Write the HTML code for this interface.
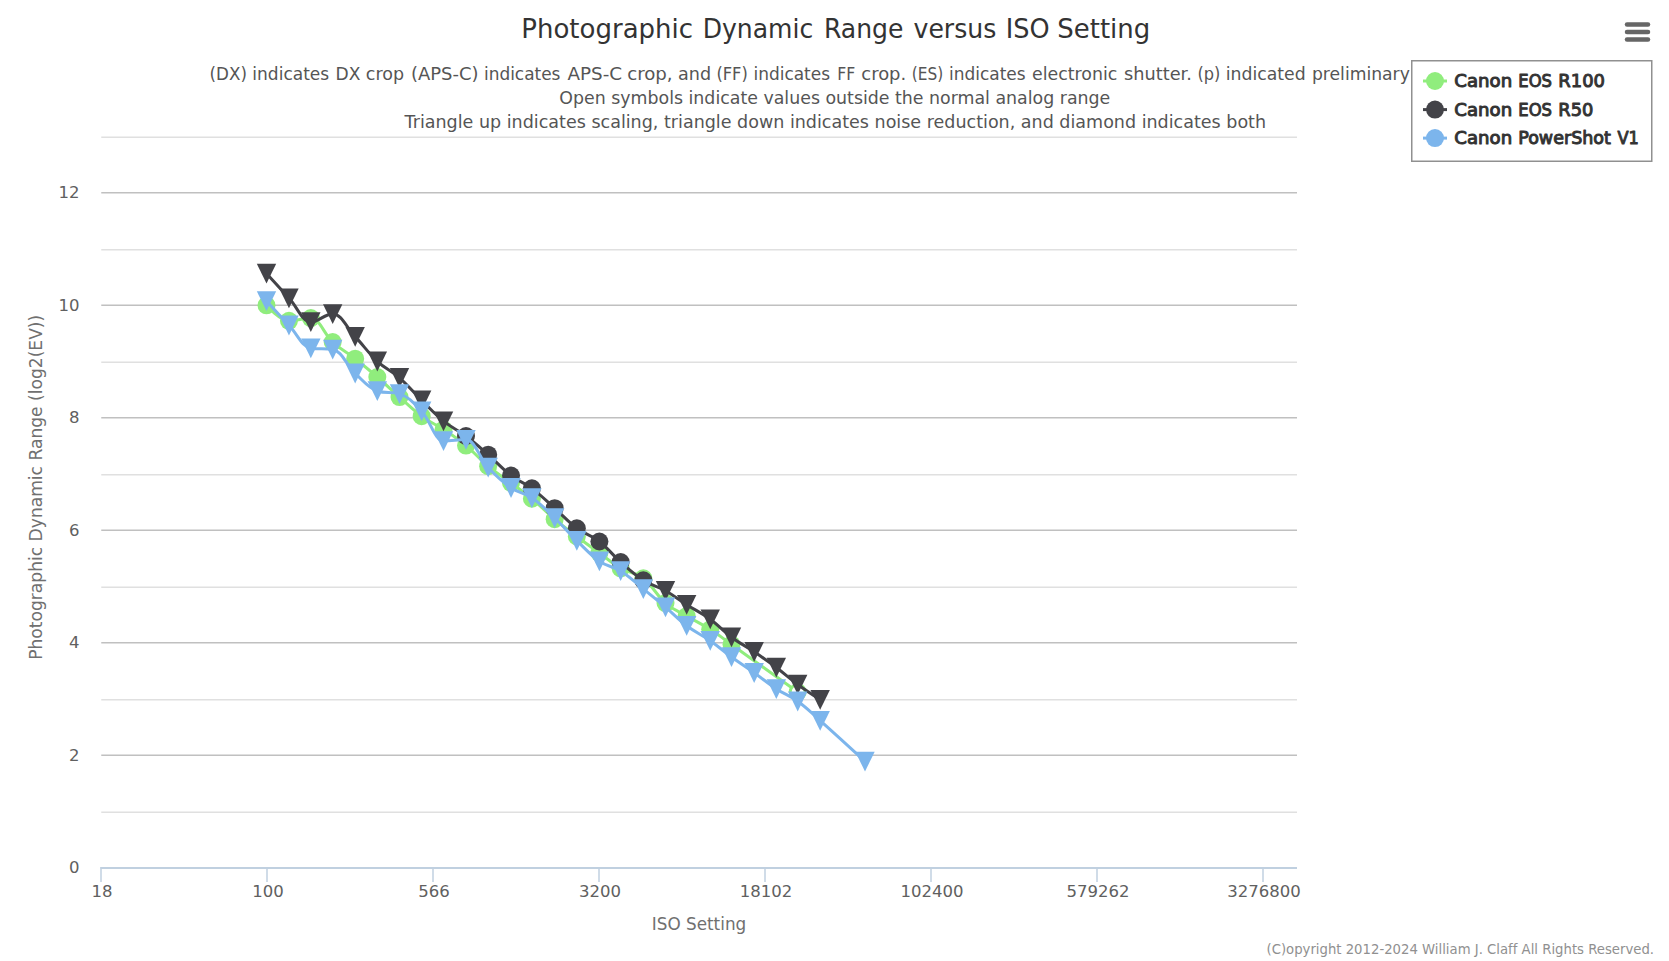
<!DOCTYPE html>
<html lang="en"><head><meta charset="utf-8"><title>Photographic Dynamic Range versus ISO Setting</title>
<style>html,body{margin:0;padding:0;background:#fff;}body{width:1669px;height:961px;overflow:hidden;}svg{display:block;font-family:'DejaVu Sans','Liberation Sans',sans-serif;font-variant-ligatures:none;}text{white-space:pre;}</style></head><body>
<svg width="1669" height="961" viewBox="0 0 1669 961" role="img" aria-label="Photographic Dynamic Range versus ISO Setting">
<rect x="0" y="0" width="1669" height="961" fill="#ffffff"/>
<g class="grid" stroke-width="1.5" fill="none">
<path d="M101.25 812.25L1297.00 812.25" stroke="#e0e0e0"/>
<path d="M101.25 755.25L1297.00 755.25" stroke="#c0c0c0"/>
<path d="M101.25 699.75L1297.00 699.75" stroke="#e0e0e0"/>
<path d="M101.25 642.75L1297.00 642.75" stroke="#c0c0c0"/>
<path d="M101.25 587.25L1297.00 587.25" stroke="#e0e0e0"/>
<path d="M101.25 530.25L1297.00 530.25" stroke="#c0c0c0"/>
<path d="M101.25 474.75L1297.00 474.75" stroke="#e0e0e0"/>
<path d="M101.25 417.75L1297.00 417.75" stroke="#c0c0c0"/>
<path d="M101.25 362.25L1297.00 362.25" stroke="#e0e0e0"/>
<path d="M101.25 305.25L1297.00 305.25" stroke="#c0c0c0"/>
<path d="M101.25 249.75L1297.00 249.75" stroke="#e0e0e0"/>
<path d="M101.25 192.75L1297.00 192.75" stroke="#c0c0c0"/>
<path d="M101.25 137.25L1297.00 137.25" stroke="#e0e0e0"/>
</g>
<g class="x-axis" stroke="#c0d0e0" stroke-width="1.5" fill="none">
<path d="M100.50 867.95L1297.00 867.95" stroke-width="1.9"/>
<path d="M101.00 867L101.00 882"/>
<path d="M267.00 867L267.00 882"/>
<path d="M433.00 867L433.00 882"/>
<path d="M599.00 867L599.00 882"/>
<path d="M765.00 867L765.00 882"/>
<path d="M931.00 867L931.00 882"/>
<path d="M1097.00 867L1097.00 882"/>
<path d="M1263.00 867L1263.00 882"/>
</g>
<g class="x-axis-labels" font-size="16.5" fill="#606060" text-anchor="middle">
<text x="102.10" y="896.8">18</text>
<text x="268.10" y="896.8">100</text>
<text x="434.10" y="896.8">566</text>
<text x="600.10" y="896.8">3200</text>
<text x="766.10" y="896.8">18102</text>
<text x="932.10" y="896.8">102400</text>
<text x="1098.10" y="896.8">579262</text>
<text x="1264.10" y="896.8">3276800</text>
</g>
<g class="y-axis-labels" font-size="16.5" fill="#606060" text-anchor="end">
<text x="79.5" y="873.05">0</text>
<text x="79.5" y="760.55">2</text>
<text x="79.5" y="648.05">4</text>
<text x="79.5" y="535.55">6</text>
<text x="79.5" y="423.05">8</text>
<text x="79.5" y="310.55">10</text>
<text x="79.5" y="198.05">12</text>
</g>
<text id="xt" x="699" y="930" font-size="18" fill="#707070" text-anchor="middle" textLength="94.5" lengthAdjust="spacingAndGlyphs">ISO Setting</text>
<text id="yt" transform="translate(42.4,487.3) rotate(-90)" font-size="18" fill="#707070" text-anchor="middle" textLength="345" lengthAdjust="spacingAndGlyphs">Photographic Dynamic Range (log2(EV))</text>
<g class="series">
<path d="M266.50 305.30 C266.50 305.30 279.98 320.80 288.97 320.80 C297.71 320.80 302.09 318.10 310.83 318.10 C319.58 318.10 323.95 334.09 332.70 342.10 C341.69 350.33 346.18 351.67 355.17 358.70 C364.03 365.63 368.47 369.32 377.33 377.00 C386.20 384.68 390.63 389.26 399.50 397.10 C408.37 404.94 412.80 409.68 421.67 416.20 C430.41 422.64 434.79 423.70 443.53 429.50 C452.52 435.46 457.01 438.21 466.00 445.60 C474.87 452.89 479.30 458.84 488.17 466.20 C497.31 473.80 501.89 476.20 511.03 483.00 C519.38 489.20 523.55 491.78 531.90 498.70 C541.01 506.26 545.56 511.54 554.67 519.20 C563.53 526.66 567.97 529.80 576.83 536.50 C585.86 543.32 590.37 546.45 599.40 553.00 C607.91 559.17 612.16 563.40 620.67 568.30 C629.73 573.52 634.27 571.26 643.33 578.30 C652.20 585.18 656.63 595.39 665.50 603.10 C673.97 610.47 678.20 611.04 686.67 616.00 C696.09 621.52 700.81 623.31 710.23 629.30 C718.74 634.71 722.99 638.40 731.50 644.50 C757.98 663.48 797.70 692.00 797.70 692.00" fill="none" stroke="#90ed7d" stroke-width="3" stroke-linejoin="round" stroke-linecap="round"/>
<circle cx="266.50" cy="305.30" r="9.0" fill="#90ed7d"/><circle cx="288.97" cy="320.80" r="9.0" fill="#90ed7d"/><circle cx="310.83" cy="318.10" r="9.0" fill="#90ed7d"/><circle cx="332.70" cy="342.10" r="9.0" fill="#90ed7d"/><circle cx="355.17" cy="358.70" r="9.0" fill="#90ed7d"/><circle cx="377.33" cy="377.00" r="9.0" fill="#90ed7d"/><circle cx="399.50" cy="397.10" r="9.0" fill="#90ed7d"/><circle cx="421.67" cy="416.20" r="9.0" fill="#90ed7d"/><circle cx="443.53" cy="429.50" r="9.0" fill="#90ed7d"/><circle cx="466.00" cy="445.60" r="9.0" fill="#90ed7d"/><circle cx="488.17" cy="466.20" r="9.0" fill="#90ed7d"/><circle cx="511.03" cy="483.00" r="9.0" fill="#90ed7d"/><circle cx="531.90" cy="498.70" r="9.0" fill="#90ed7d"/><circle cx="554.67" cy="519.20" r="9.0" fill="#90ed7d"/><circle cx="576.83" cy="536.50" r="9.0" fill="#90ed7d"/><circle cx="599.40" cy="553.00" r="9.0" fill="#90ed7d"/><circle cx="620.67" cy="568.30" r="9.0" fill="#90ed7d"/><circle cx="643.33" cy="578.30" r="9.0" fill="#90ed7d"/><circle cx="665.50" cy="603.10" r="9.0" fill="#90ed7d"/><circle cx="686.67" cy="616.00" r="9.0" fill="#90ed7d"/><circle cx="710.23" cy="629.30" r="9.0" fill="#90ed7d"/><circle cx="731.50" cy="644.50" r="9.0" fill="#90ed7d"/><circle cx="797.70" cy="692.00" r="7.5" fill="#fff" stroke="#90ed7d" stroke-width="3"/>

<path d="M266.50 273.40 C266.50 273.40 279.98 288.27 288.97 298.10 C297.71 307.67 302.09 321.90 310.83 321.90 C319.58 321.90 323.95 313.90 332.70 313.90 C341.69 313.90 346.18 327.11 355.17 336.65 C364.03 346.07 368.47 353.07 377.33 361.30 C386.20 369.53 390.63 370.00 399.50 377.80 C408.37 385.60 412.80 391.56 421.67 400.30 C430.41 408.92 434.79 414.16 443.53 421.20 C452.52 428.44 457.01 429.25 466.00 436.00 C474.87 442.65 479.30 446.90 488.17 454.70 C497.31 462.74 501.89 468.56 511.03 475.60 C519.38 482.02 523.55 482.11 531.90 488.35 C541.01 495.15 545.56 500.10 554.67 508.20 C563.53 516.08 567.97 521.70 576.83 528.30 C585.86 535.02 590.37 534.54 599.40 541.50 C607.91 548.06 612.16 554.59 620.67 562.10 C629.73 570.11 634.27 574.50 643.33 580.30 C652.20 585.98 656.63 585.81 665.50 590.80 C673.97 595.57 678.20 599.32 686.67 604.70 C696.09 610.68 700.81 612.37 710.23 619.20 C718.74 625.37 722.99 630.89 731.50 637.20 C740.57 643.93 745.10 645.67 754.17 651.80 C763.03 657.79 767.47 660.84 776.33 667.50 C784.88 673.92 789.15 678.24 797.70 684.50 C806.69 691.08 820.17 699.60 820.17 699.60" fill="none" stroke="#434348" stroke-width="3" stroke-linejoin="round" stroke-linecap="round"/>
<path d="M256.80 263.70L276.20 263.70L266.50 283.50Z" fill="#434348"/><path d="M279.27 288.40L298.67 288.40L288.97 308.20Z" fill="#434348"/><path d="M301.13 312.20L320.53 312.20L310.83 332.00Z" fill="#434348"/><path d="M323.00 304.20L342.40 304.20L332.70 324.00Z" fill="#434348"/><path d="M345.47 326.95L364.87 326.95L355.17 346.75Z" fill="#434348"/><path d="M367.63 351.60L387.03 351.60L377.33 371.40Z" fill="#434348"/><path d="M389.80 368.10L409.20 368.10L399.50 387.90Z" fill="#434348"/><path d="M411.97 390.60L431.37 390.60L421.67 410.40Z" fill="#434348"/><path d="M433.83 411.50L453.23 411.50L443.53 431.30Z" fill="#434348"/><circle cx="466.00" cy="436.00" r="9.0" fill="#434348"/><circle cx="488.17" cy="454.70" r="9.0" fill="#434348"/><circle cx="511.03" cy="475.60" r="9.0" fill="#434348"/><circle cx="531.90" cy="488.35" r="9.0" fill="#434348"/><circle cx="554.67" cy="508.20" r="9.0" fill="#434348"/><circle cx="576.83" cy="528.30" r="9.0" fill="#434348"/><circle cx="599.40" cy="541.50" r="9.0" fill="#434348"/><circle cx="620.67" cy="562.10" r="9.0" fill="#434348"/><circle cx="643.33" cy="580.30" r="9.0" fill="#434348"/><path d="M655.80 581.10L675.20 581.10L665.50 600.90Z" fill="#434348"/><path d="M676.97 595.00L696.37 595.00L686.67 614.80Z" fill="#434348"/><path d="M700.53 609.50L719.93 609.50L710.23 629.30Z" fill="#434348"/><path d="M721.80 627.50L741.20 627.50L731.50 647.30Z" fill="#434348"/><path d="M744.47 642.10L763.87 642.10L754.17 661.90Z" fill="#434348"/><path d="M766.63 657.80L786.03 657.80L776.33 677.60Z" fill="#434348"/><path d="M788.00 674.80L807.40 674.80L797.70 694.60Z" fill="#434348"/><path d="M810.47 689.90L829.87 689.90L820.17 709.70Z" fill="#434348"/>

<path d="M266.50 301.00 C266.50 301.00 279.98 315.73 288.97 325.30 C297.71 334.61 302.09 347.00 310.83 348.20 C319.58 349.40 323.95 348.20 332.70 349.40 C341.69 350.60 346.18 364.92 355.17 373.30 C364.03 381.56 368.47 388.10 377.33 391.00 C386.20 393.90 390.63 391.00 399.50 393.90 C408.37 396.80 412.80 401.72 421.67 411.20 C430.41 420.56 434.79 441.00 443.53 441.00 C452.52 441.00 457.01 439.60 466.00 439.60 C474.87 439.60 479.30 457.91 488.17 467.40 C497.31 477.19 501.89 481.43 511.03 487.80 C519.38 493.61 523.55 492.07 531.90 497.85 C541.01 504.15 545.56 509.34 554.67 518.00 C563.53 526.44 567.97 532.04 576.83 540.60 C585.86 549.32 590.37 554.94 599.40 561.20 C607.91 567.10 612.16 565.64 620.67 571.00 C629.73 576.72 634.27 581.60 643.33 588.90 C652.20 596.04 656.63 599.57 665.50 607.10 C673.97 614.29 678.20 619.34 686.67 625.70 C696.09 632.78 700.81 634.12 710.23 640.70 C718.74 646.64 722.99 650.78 731.50 657.00 C740.57 663.62 745.10 666.35 754.17 672.80 C763.03 679.11 767.47 683.10 776.33 688.90 C784.88 694.50 789.15 695.12 797.70 701.30 C806.69 707.80 811.18 712.57 820.17 720.60 C838.10 736.61 865.00 761.40 865.00 761.40" fill="none" stroke="#7cb5ec" stroke-width="3" stroke-linejoin="round" stroke-linecap="round"/>
<path d="M256.80 291.30L276.20 291.30L266.50 311.10Z" fill="#7cb5ec"/><path d="M279.27 315.60L298.67 315.60L288.97 335.40Z" fill="#7cb5ec"/><path d="M301.13 338.50L320.53 338.50L310.83 358.30Z" fill="#7cb5ec"/><path d="M323.00 339.70L342.40 339.70L332.70 359.50Z" fill="#7cb5ec"/><path d="M345.47 363.60L364.87 363.60L355.17 383.40Z" fill="#7cb5ec"/><path d="M367.63 381.30L387.03 381.30L377.33 401.10Z" fill="#7cb5ec"/><path d="M389.80 384.20L409.20 384.20L399.50 404.00Z" fill="#7cb5ec"/><path d="M411.97 401.50L431.37 401.50L421.67 421.30Z" fill="#7cb5ec"/><path d="M433.83 431.30L453.23 431.30L443.53 451.10Z" fill="#7cb5ec"/><path d="M456.30 429.90L475.70 429.90L466.00 449.70Z" fill="#7cb5ec"/><path d="M478.47 457.70L497.87 457.70L488.17 477.50Z" fill="#7cb5ec"/><path d="M501.33 478.10L520.73 478.10L511.03 497.90Z" fill="#7cb5ec"/><path d="M522.20 488.15L541.60 488.15L531.90 507.95Z" fill="#7cb5ec"/><path d="M544.97 508.30L564.37 508.30L554.67 528.10Z" fill="#7cb5ec"/><path d="M567.13 530.90L586.53 530.90L576.83 550.70Z" fill="#7cb5ec"/><path d="M589.70 551.50L609.10 551.50L599.40 571.30Z" fill="#7cb5ec"/><path d="M610.97 561.30L630.37 561.30L620.67 581.10Z" fill="#7cb5ec"/><path d="M633.63 579.20L653.03 579.20L643.33 599.00Z" fill="#7cb5ec"/><path d="M655.80 597.40L675.20 597.40L665.50 617.20Z" fill="#7cb5ec"/><path d="M676.97 616.00L696.37 616.00L686.67 635.80Z" fill="#7cb5ec"/><path d="M700.53 631.00L719.93 631.00L710.23 650.80Z" fill="#7cb5ec"/><path d="M721.80 647.30L741.20 647.30L731.50 667.10Z" fill="#7cb5ec"/><path d="M744.47 663.10L763.87 663.10L754.17 682.90Z" fill="#7cb5ec"/><path d="M766.63 679.20L786.03 679.20L776.33 699.00Z" fill="#7cb5ec"/><path d="M788.00 691.60L807.40 691.60L797.70 711.40Z" fill="#7cb5ec"/><path d="M810.47 710.90L829.87 710.90L820.17 730.70Z" fill="#7cb5ec"/><path d="M855.30 751.70L874.70 751.70L865.00 771.50Z" fill="#7cb5ec"/>

</g>
<text id="ti" y="37.70" font-size="27" fill="#333333"><tspan x="521.27" textLength="171.84" lengthAdjust="spacingAndGlyphs">Photographic</tspan> <tspan x="702.64" textLength="110.64" lengthAdjust="spacingAndGlyphs">Dynamic</tspan> <tspan x="823.94" textLength="79.53" lengthAdjust="spacingAndGlyphs">Range</tspan> <tspan x="913.50" textLength="82.89" lengthAdjust="spacingAndGlyphs">versus</tspan> <tspan x="1005.71" textLength="43.88" lengthAdjust="spacingAndGlyphs">ISO</tspan> <tspan x="1057.24" textLength="93.02" lengthAdjust="spacingAndGlyphs">Setting</tspan></text>
<g class="subtitle" font-size="18" fill="#555555">
<text id="s1" y="80.10" font-size="18" fill="#555555"><tspan x="209.57" textLength="37.38" lengthAdjust="spacingAndGlyphs">(DX)</tspan> <tspan x="252.36" textLength="76.80" lengthAdjust="spacingAndGlyphs">indicates</tspan> <tspan x="335.55" textLength="24.86" lengthAdjust="spacingAndGlyphs">DX</tspan> <tspan x="365.83" textLength="38.18" lengthAdjust="spacingAndGlyphs">crop</tspan> <tspan x="410.90" textLength="67.62" lengthAdjust="spacingAndGlyphs">(APS-C)</tspan> <tspan x="483.96" textLength="76.50" lengthAdjust="spacingAndGlyphs">indicates</tspan> <tspan x="567.40" textLength="54.68" lengthAdjust="spacingAndGlyphs">APS-C</tspan> <tspan x="627.19" textLength="45.44" lengthAdjust="spacingAndGlyphs">crop,</tspan> <tspan x="678.02" textLength="33.07" lengthAdjust="spacingAndGlyphs">and</tspan> <tspan x="716.40" textLength="31.43" lengthAdjust="spacingAndGlyphs">(FF)</tspan> <tspan x="753.46" textLength="76.60" lengthAdjust="spacingAndGlyphs">indicates</tspan> <tspan x="837.33" textLength="17.97" lengthAdjust="spacingAndGlyphs">FF</tspan> <tspan x="861.30" textLength="44.91" lengthAdjust="spacingAndGlyphs">crop.</tspan> <tspan x="911.75" textLength="31.43" lengthAdjust="spacingAndGlyphs">(ES)</tspan> <tspan x="948.96" textLength="76.70" lengthAdjust="spacingAndGlyphs">indicates</tspan> <tspan x="1032.04" textLength="85.23" lengthAdjust="spacingAndGlyphs">electronic</tspan> <tspan x="1124.10" textLength="67.80" lengthAdjust="spacingAndGlyphs">shutter.</tspan> <tspan x="1197.40" textLength="22.92" lengthAdjust="spacingAndGlyphs">(p)</tspan> <tspan x="1225.74" textLength="79.93" lengthAdjust="spacingAndGlyphs">indicated</tspan> <tspan x="1311.94" textLength="97.92" lengthAdjust="spacingAndGlyphs">preliminary</tspan></text>
<text id="s2" x="559.3" y="103.9" textLength="551" lengthAdjust="spacingAndGlyphs">Open symbols indicate values outside the normal analog range</text>
<text id="s3" x="404.6" y="127.7" textLength="861.5" lengthAdjust="spacingAndGlyphs">Triangle up indicates scaling, triangle down indicates noise reduction, and diamond indicates both</text>
</g>
<g class="legend">
<rect x="1411.75" y="60.75" width="240" height="100.5" fill="#ffffff" stroke="#909090" stroke-width="1.5"/>
<path d="M1423 81.00L1447 81.00" stroke="#90ed7d" stroke-width="3" fill="none"/>
<circle cx="1435" cy="81.00" r="9" fill="#90ed7d"/>
<path d="M1423 109.60L1447 109.60" stroke="#434348" stroke-width="3" fill="none"/>
<circle cx="1435" cy="109.60" r="9" fill="#434348"/>
<path d="M1423 138.10L1447 138.10" stroke="#7cb5ec" stroke-width="3" fill="none"/>
<circle cx="1435" cy="138.10" r="9" fill="#7cb5ec"/>
<text y="86.80" font-size="18" fill="#333333" stroke="#333333" stroke-width="1" stroke-linejoin="round"><tspan x="1454.29" textLength="57.93" lengthAdjust="spacingAndGlyphs">Canon</tspan> <tspan x="1518.29" textLength="33.70" lengthAdjust="spacingAndGlyphs">EOS</tspan> <tspan x="1558.30" textLength="46.65" lengthAdjust="spacingAndGlyphs">R100</tspan></text>
<text y="115.70" font-size="18" fill="#333333" stroke="#333333" stroke-width="1" stroke-linejoin="round"><tspan x="1454.29" textLength="57.93" lengthAdjust="spacingAndGlyphs">Canon</tspan> <tspan x="1518.29" textLength="33.70" lengthAdjust="spacingAndGlyphs">EOS</tspan> <tspan x="1558.31" textLength="35.04" lengthAdjust="spacingAndGlyphs">R50</tspan></text>
<text y="144.00" font-size="18" fill="#333333" stroke="#333333" stroke-width="1" stroke-linejoin="round"><tspan x="1454.29" textLength="57.93" lengthAdjust="spacingAndGlyphs">Canon</tspan> <tspan x="1518.23" textLength="92.73" lengthAdjust="spacingAndGlyphs">PowerShot</tspan> <tspan x="1617.50" textLength="21.41" lengthAdjust="spacingAndGlyphs">V1</tspan></text>
</g>
<g class="export-menu-button" stroke="#666666" stroke-width="4.5" stroke-linecap="round" fill="none">
<path d="M1627 24.50L1648 24.50"/>
<path d="M1627 32.00L1648 32.00"/>
<path d="M1627 39.50L1648 39.50"/>
</g>
<text id="cr" x="1654" y="953.5" font-size="13.5" fill="#909090" text-anchor="end" textLength="387.5" lengthAdjust="spacingAndGlyphs">(C)opyright 2012-2024 William J. Claff All Rights Reserved.</text>
</svg></body></html>
